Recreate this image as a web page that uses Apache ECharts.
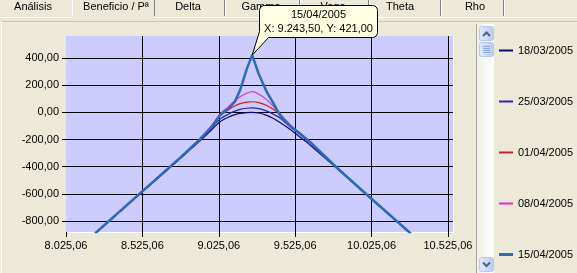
<!DOCTYPE html>
<html><head><meta charset="utf-8">
<script src="https://cdn.jsdelivr.net/npm/echarts@6/dist/echarts.min.js"></script>
<style>html,body{margin:0;padding:0;background:#ece9d8;overflow:hidden}#c{width:577px;height:273px}</style>
</head><body><div id="c"></div>
<script>
// ---- data ----
const seriesNames = ['18/03/2005', '25/03/2005', '01/04/2005', '08/04/2005', '15/04/2005'];
const xValues = [8215, 8500, 8771, 8902, 8980, 9033, 9087, 9131, 9164, 9208, 9243.5, 9286, 9339, 9382, 9426, 9491, 9560, 9622, 9800, 9960, 10283];
const y1803 = [-893, -610, -342, -210, -126, -70, -36, -17, -8, -2, 0, -5, -22, -45, -75, -125, -185, -240, -414, -575, -895];
const y2503 = [-893, -609, -340, -205, -112, -50, -14, 9, 22, 30, 33, 27, 9, -13, -42, -105, -165, -225, -412, -573, -894];
const y0104 = [-893, -607, -338, -200, -100, -25, 18, 48, 64, 75, 78, 71, 50, 22, -18, -95, -158, -218, -410, -572, -894];
const y0804 = [-892, -606, -336, -196, -95, -12, 40, 85, 115, 140, 152, 135, 92, 45, -10, -90, -155, -215, -410, -572, -894];
const y1504 = [-892, -606, -335, -198, -105, -22, 25, 80, 162, 318, 421, 284, 150, 68, -22, -100, -160, -218, -410, -572, -894];
const seriesValues = [y1803, y2503, y0104, y0804, y1504];
const xTickFirst = 8025.06;   // first x tick label
const xTickStep = 500;
const xAxisEnd = 10558;
const yAxisMin = -881, yAxisMax = 562, ySplitNumber = 7;
const tipLabel = '15/04/2005';
const tipX = 9243.5, tipY = 421;
const tabs = ['Análisis', 'Beneficio / Pª', 'Delta', 'Gamma', 'Vega', 'Theta', 'Rho'];

// ---- helpers ----
function fmt(v) {
  const neg = v < -0.0000001;
  let [i, d] = Math.abs(v).toFixed(2).split('.');
  i = i.replace(/\B(?=(\d{3})+(?!\d))/g, '.');
  return (neg ? '-' : '') + i + ',' + d;
}
const SHIFT = xTickFirst - Math.floor(xTickFirst / xTickStep) * xTickStep; // 25.06
const FONT = 'Liberation Sans, Arial, sans-serif';
const colors = ['#0a0a74', '#2828b0', '#d42020', '#e030c8', '#2a6cb8'];
const widths = [1.2, 1.2, 1.2, 1.2, 2.5];

const chart = echarts.init(document.getElementById('c'), null, {renderer: 'canvas'});
chart.setOption({
  animation: false,
  backgroundColor: '#ece9d8',
  grid: {left: 66, top: 36, right: 124, bottom: 41, show: true, backgroundColor: '#ccccff', borderWidth: 0},
  xAxis: {
    type: 'value', min: xTickFirst - SHIFT, max: xAxisEnd - SHIFT, interval: xTickStep,
    axisLine: {show: true, onZero: false, lineStyle: {color: '#ffffff', width: 1}},
    axisTick: {show: true, length: 5, lineStyle: {color: '#000'}},
    axisLabel: {color: '#000', fontSize: 11, fontFamily: FONT, margin: 8, showMaxLabel: false,
      formatter: v => fmt(v + SHIFT)},
    splitLine: {show: true, showMinLine: false, showMaxLine: false, lineStyle: {color: '#000', width: 1}}
  },
  yAxis: {
    type: 'value', min: yAxisMin, max: yAxisMax, splitNumber: ySplitNumber,
    axisLine: {show: false},
    axisTick: {show: true, length: 4, lineStyle: {color: '#000'}},
    axisLabel: {color: '#000', fontSize: 11, fontFamily: FONT, margin: 7, showMinLabel: false, showMaxLabel: false,
      formatter: v => fmt(v)},
    splitLine: {show: true, showMinLine: false, showMaxLine: false, lineStyle: {color: '#000', width: 1}}
  },
  legend: {
    orient: 'vertical', left: 499, top: 45, padding: 0, itemWidth: 14, itemHeight: 4, itemGap: 40,
    data: seriesNames.map((n, k) => ({name: n, icon: k < 4 ? 'path://M0,0H14V2H0Z' : 'path://M0,0H14V3H0Z'})),
    textStyle: {color: '#000', fontSize: 11, fontFamily: FONT}
  },
  series: seriesNames.map((n, k) => ({
    name: n, type: 'line', symbol: 'none', smooth: k < 4 ? 0.3 : false,
    color: colors[k], lineStyle: {width: widths[k], color: colors[k]},
    data: xValues.map((x, i) => [x - SHIFT, seriesValues[k][i]])
  }))
});

// ---- decorations (window chrome + callout) ----
const p = chart.convertToPixel({gridIndex: 0}, [tipX - SHIFT, tipY]);
const g = [];
// tab strip
const tabCenters = [33, 116, 188, 261, 333, 400, 475];
const seps = [72, 154, 224, 299, 368, 440, 503];
tabs.forEach((t, i) => g.push({type: 'text', x: tabCenters[i], y: 7, style: {text: t, fill: '#000', font: '11px ' + FONT, align: 'center', verticalAlign: 'middle'}, z: 10}));
seps.forEach((x, i) => {
  g.push({type: 'line', shape: {x1: x + 0.5, y1: 0, x2: x + 0.5, y2: 16}, style: {stroke: i === 0 ? '#ffffff' : '#7f7f7f', lineWidth: 1}, z: 10});
  if (i > 1) g.push({type: 'line', shape: {x1: x + 1.5, y1: 0, x2: x + 1.5, y2: 16}, style: {stroke: '#ffffff', lineWidth: 1}, z: 10});
});
g.push({type: 'line', shape: {x1: 0, y1: 17.5, x2: 72, y2: 17.5}, style: {stroke: '#fff', lineWidth: 1}, z: 10});
g.push({type: 'line', shape: {x1: 155, y1: 17.5, x2: 577, y2: 17.5}, style: {stroke: '#fff', lineWidth: 1}, z: 10});
g.push({type: 'line', shape: {x1: 2, y1: 21.5, x2: 577, y2: 21.5}, style: {stroke: '#c9c6b8', lineWidth: 1}, z: 10});
g.push({type: 'line', shape: {x1: 1.5, y1: 22, x2: 1.5, y2: 273}, style: {stroke: '#ffffff', lineWidth: 1}, z: 10});
// plot white edge on the right
g.push({type: 'line', shape: {x1: 453.5, y1: 36, x2: 453.5, y2: 233}, style: {stroke: '#ffffff', lineWidth: 1}, z: 10});
// scrollbar
g.push({type: 'rect', shape: {x: 477, y: 24, width: 17, height: 249}, style: {fill: new echarts.graphic.LinearGradient(0, 0, 1, 0, [{offset: 0, color: '#f0f0ea'}, {offset: 1, color: '#fdfdfb'}])}, z: 10});
g.push({type: 'line', shape: {x1: 476.5, y1: 24, x2: 476.5, y2: 273}, style: {stroke: '#a8a8a0', lineWidth: 1}, z: 11});
const btnFill = () => new echarts.graphic.LinearGradient(0, 0, 1, 0, [{offset: 0, color: '#e2eafd'}, {offset: 1, color: '#b9cbf3'}]);
g.push({type: 'rect', shape: {x: 479.5, y: 26.5, width: 14, height: 14, r: 2}, style: {fill: btnFill(), stroke: '#b6c9f2', lineWidth: 1}, z: 11});
g.push({type: 'polyline', shape: {points: [[483, 36], [486.5, 32.5], [490, 36]]}, style: {stroke: '#4d6185', lineWidth: 2, fill: null}, z: 12});
g.push({type: 'rect', shape: {x: 479.5, y: 42.5, width: 14, height: 14, r: 2}, style: {fill: btnFill(), stroke: '#b6c9f2', lineWidth: 1}, z: 11});
[46.5, 48.5, 50.5, 52.5].forEach(y => g.push({type: 'line', shape: {x1: 483, y1: y, x2: 490, y2: y}, style: {stroke: '#8eaae4', lineWidth: 1}, z: 12}));
g.push({type: 'rect', shape: {x: 479.5, y: 257.5, width: 14, height: 14, r: 2}, style: {fill: btnFill(), stroke: '#b6c9f2', lineWidth: 1}, z: 11});
g.push({type: 'polyline', shape: {points: [[483, 262.5], [486.5, 266], [490, 262.5]]}, style: {stroke: '#4d6185', lineWidth: 2, fill: null}, z: 12});
// callout balloon pointing at the data point
const bx0 = 259.5, by0 = 5.5, bx1 = 377.5, by1 = 37.5, r = 5;
function arc(cx, cy, a0, a1) {
  const pts = [];
  for (let k = 0; k <= 6; k++) { const a = a0 + (a1 - a0) * k / 6; pts.push([cx + r * Math.cos(a), cy + r * Math.sin(a)]); }
  return pts;
}
const balloon = [].concat(
  arc(bx0 + r, by0 + r, Math.PI, 1.5 * Math.PI),
  arc(bx1 - r, by0 + r, 1.5 * Math.PI, 2 * Math.PI),
  arc(bx1 - r, by1 - r, 0, 0.5 * Math.PI),
  [[bx0 + 9, by1], [p[0], p[1]], [bx0, by1 - 6]]
);
g.push({type: 'polygon', shape: {points: balloon}, style: {fill: '#ffffe1', stroke: '#000', lineWidth: 1}, z: 20});
const cx = (bx0 + bx1) / 2;
g.push({type: 'text', x: cx, y: 15, style: {text: tipLabel, fill: '#000', font: '11px ' + FONT, align: 'center', verticalAlign: 'middle'}, z: 21});
g.push({type: 'text', x: cx, y: 29, style: {text: 'X: ' + fmt(tipX) + ', Y: ' + fmt(tipY), fill: '#000', font: '11px ' + FONT, align: 'center', verticalAlign: 'middle'}, z: 21});
chart.setOption({graphic: {elements: g}});
</script>
</body></html>
